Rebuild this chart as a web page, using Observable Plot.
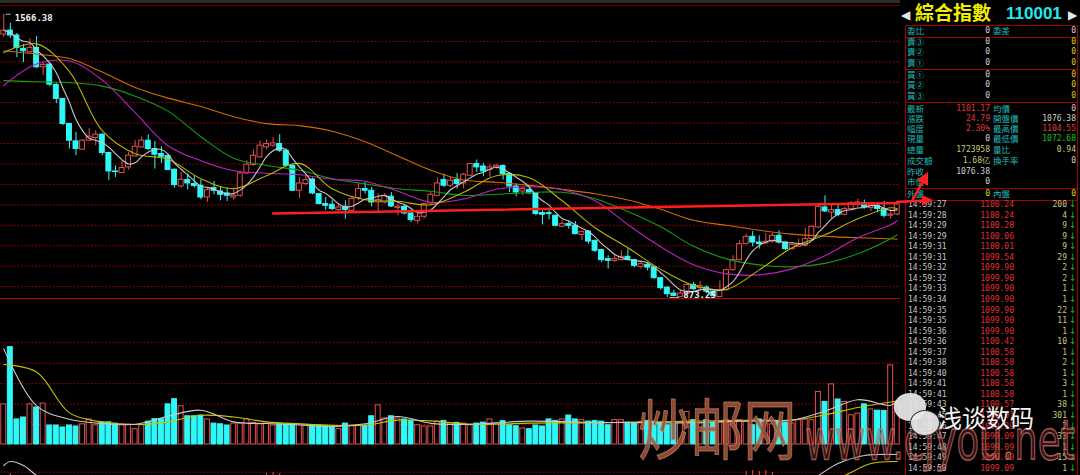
<!DOCTYPE html>
<html><head><meta charset="utf-8">
<script src="https://cdn.jsdelivr.net/npm/d3@7"></script>
<script src="https://cdn.jsdelivr.net/npm/@observablehq/plot@0.6"></script>
<style>
body{margin:0;background:#000;width:1080px;height:475px;overflow:hidden;position:relative;}
.abs{position:absolute;white-space:nowrap;line-height:1;}
.num{font-family:"DejaVu Sans Mono",monospace;font-size:8px;}
.lab{font-family:"Noto Sans CJK TC",sans-serif;font-size:8.5px;color:#20b8b8;}
</style></head>
<body>
<div id="main" class="abs" style="left:0;top:0"></div>
<div id="vol" class="abs" style="left:0;top:298px"></div>
<div id="ind" class="abs" style="left:0;top:445px"></div>
<div id="overlay"></div>
<script>
// ---------- daily candles (index 0 .. 136) ----------
const opens = [1516.7,1526.5,1514.3,1481.7,1473.3,1484.1,1436.6,1443.2,1393.5,1359.2,1297.9,1255.3,1234.9,1257.0,1263.6,1271.7,1226.9,1181.8,1177.9,1191.6,1218.5,1240.6,1257.0,1236.7,1224.4,1219.5,1186.0,1145.0,1160.7,1150.9,1146.8,1118.1,1141.1,1132.8,1127.9,1118.1,1122.3,1176.9,1197.5,1216.1,1240.6,1244.8,1248.9,1232.5,1195.8,1134.5,1150.9,1162.2,1126.4,1101.9,1100.2,1087.2,1095.3,1085.5,1116.6,1138.7,1134.5,1105.8,1105.8,1119.8,1092.1,1095.3,1078.9,1061.0,1070.8,1103.4,1122.3,1160.7,1146.8,1160.7,1152.4,1171.3,1199.9,1194.0,1185.2,1191.6,1195.0,1175.4,1145.0,1132.8,1136.2,1128.9,1079.9,1079.9,1073.3,1046.3,1052.9,1048.8,1026.7,1034.8,1012.0,989.2,967.2,963.0,964.7,972.8,964.7,948.3,953.2,946.6,920.6,897.6,882.9,874.8,882.2,904.2,896.1,897.6,887.8,874.5,891.2,940.2,964.7,1003.9,1021.8,1007.8,1005.4,1010.3,1024.3,1007.8,991.7,997.3,999.8,1016.2,1044.6,1093.6,1081.3,1087.2,1075.7,1089.7,1100.2,1103.4,1092.1,1097.8,1089.7,1073.3,1076.38];
const highs = [1566.38,1544.4,1519.2,1492.2,1506.9,1511.8,1448.8,1445.7,1396.7,1359.9,1299.4,1277.3,1259.5,1286.4,1281.5,1274.2,1228.3,1195.8,1206.3,1228.3,1257.0,1266.8,1271.7,1255.3,1242.3,1224.4,1187.7,1179.3,1176.2,1171.3,1160.7,1141.1,1157.3,1144.3,1141.1,1141.1,1181.8,1208.0,1234.2,1257.0,1258.7,1265.1,1271.7,1236.7,1198.2,1167.1,1171.3,1165.6,1127.2,1118.1,1111.7,1100.2,1110.0,1118.1,1152.4,1154.8,1142.6,1127.2,1127.9,1130.3,1101.9,1097.8,1081.3,1081.3,1103.4,1130.3,1165.6,1175.4,1167.1,1176.9,1176.9,1201.4,1209.7,1201.4,1198.2,1198.2,1198.2,1179.3,1150.9,1142.6,1142.6,1130.3,1085.5,1087.2,1075.7,1061.0,1061.0,1059.3,1036.5,1036.5,1013.7,991.7,975.3,977.7,987.5,991.7,967.2,963.0,958.8,948.3,922.1,899.3,891.2,889.5,906.7,909.8,912.3,901.8,889.5,914.0,942.7,975.3,1012.0,1028.4,1034.8,1024.3,1029.9,1029.9,1036.5,1010.3,1005.4,1016.2,1043.1,1048.8,1100.2,1122.3,1101.9,1100.2,1093.6,1108.3,1114.2,1111.7,1105.8,1102.7,1108.3,1088.0,1104.55];
const lows = [1509.4,1506.9,1460.4,1448.1,1470.2,1433.4,1416.3,1389.3,1347.7,1293.8,1236.7,1220.3,1234.2,1254.6,1244.8,1220.3,1159.0,1167.1,1176.9,1185.2,1217.8,1239.1,1232.5,1187.7,1201.4,1183.5,1141.1,1141.1,1136.9,1141.1,1112.5,1105.8,1124.7,1110.0,1108.3,1111.7,1118.1,1173.7,1194.0,1214.6,1234.2,1240.6,1228.3,1193.3,1132.8,1115.6,1146.8,1124.7,1100.2,1087.2,1085.5,1083.0,1065.2,1081.3,1110.0,1126.4,1095.3,1083.0,1101.9,1093.6,1073.3,1075.7,1056.8,1052.9,1065.2,1100.2,1119.8,1142.6,1142.6,1138.7,1138.7,1168.8,1179.3,1168.8,1165.6,1187.7,1160.7,1130.3,1119.8,1122.3,1126.4,1073.3,1051.2,1062.7,1046.3,1044.6,1040.7,1026.7,1012.0,1003.9,983.3,958.8,942.7,958.8,963.0,963.0,946.6,942.7,938.5,918.2,891.2,873.25,875.0,874.0,879.7,889.5,889.5,882.9,874.8,873.5,889.5,938.5,963.0,1002.2,997.3,991.7,1003.9,1005.4,1003.9,987.5,989.2,995.6,997.3,1013.7,1043.1,1081.3,1065.2,1070.8,1073.3,1087.2,1093.6,1089.7,1083.8,1080.6,1067.6,1065.2,1072.68];
const closes = [1526.5,1514.3,1484.1,1475.8,1484.1,1436.6,1442.5,1394.2,1359.2,1297.9,1257.0,1236.7,1257.0,1266.8,1271.7,1226.9,1181.8,1180.3,1190.1,1220.3,1242.3,1257.0,1236.7,1222.7,1217.8,1185.2,1148.5,1161.5,1152.4,1146.0,1118.1,1136.2,1134.5,1124.7,1122.3,1122.3,1176.9,1198.2,1220.3,1244.8,1248.9,1250.4,1232.5,1195.8,1134.5,1152.4,1160.7,1127.9,1101.9,1097.8,1089.7,1093.6,1087.2,1114.2,1138.7,1134.5,1105.8,1111.7,1122.3,1096.0,1095.3,1078.9,1062.7,1070.8,1101.9,1124.7,1152.4,1146.8,1159.0,1150.9,1173.7,1199.9,1191.6,1181.8,1191.6,1195.8,1175.4,1145.0,1130.3,1138.7,1127.9,1077.4,1075.7,1077.4,1048.8,1052.9,1048.8,1028.4,1034.1,1010.3,987.5,964.7,963.0,967.2,972.8,964.7,950.8,954.9,946.6,920.6,896.1,881.4,877.3,882.9,904.2,893.7,901.8,887.8,877.3,891.2,940.2,964.7,1003.9,1021.8,1007.8,1003.9,1009.6,1024.3,1007.8,991.7,1002.2,1002.2,1016.2,1046.3,1095.3,1083.8,1087.2,1075.7,1089.7,1103.4,1105.8,1093.6,1097.8,1090.0,1073.3,1076.38,1101.17];
// volume, 万股
const vols = [165,400,103,111,165,152,168,78,78,70,78,74,83,103,79,91,91,86,83,82,63,79,94,104,104,165,186,157,116,116,119,103,86,83,78,86,86,103,89,83,86,78,83,82,83,82,79,78,78,75,74,63,86,78,79,78,116,161,107,116,107,103,98,79,74,74,94,97,86,89,86,79,86,90,103,86,96,79,75,66,63,78,74,103,97,103,119,103,100,94,97,94,79,100,100,89,86,93,97,94,86,79,83,93,134,100,86,100,89,93,100,86,100,93,79,103,97,83,93,89,86,100,103,100,216,175,247,185,175,120,127,165,144,139,138,325,172.4];

// ---------- moving-average readings (at candle indexes maIdx) ----------
const maIdx = [0,5,10,15,20,25,30,35,40,45,50,55,60,65,70,75,80,85,90,95,100,105,110,115,120,125,130,135,136];
const ma10 = [1472.6,1493.9,1426.1,1281.5,1225.2,1211.7,1163.9,1139.4,1171.3,1201.4,1139.4,1112.5,1108.8,1100.2,1130.8,1171.3,1166.4,1110.0,1043.9,994.9,942.2,903.0,893.2,940.9,994.9,1026.7,1065.9,1092.9,1090.4];
const ma20 = [1392,1444.4,1451.8,1405.2,1325.6,1244.8,1208,1183.5,1177.4,1173.7,1162.7,1157.8,1133.3,1106.3,1114.2,1138.2,1144.3,1136.9,1110,1051.7,997.3,953.2,931.2,928.7,943.4,975.3,1019.4,1051.2,1061];
const ma30 = [1404,1401.1,1399.1,1390.5,1366,1329.3,1266.8,1214.1,1196.5,1184.7,1163.9,1151.2,1139.4,1133.3,1123,1125.9,1130.3,1130.8,1114.9,1083.8,1046.3,998.5,967.9,953.2,948.3,956.9,980.2,1016.9,1026.7];
const ma60 = [1476.3,1468.9,1457.9,1424.8,1386.9,1361.1,1340.8,1315.8,1298.7,1293.8,1280.3,1254.6,1219.5,1184.7,1161,1155.3,1147.7,1138.2,1127.2,1112,1089.2,1062.2,1050,1037.7,1028.4,1023,1019.4,1016.9,1015.7];
const volMa5 = [393,159,104,86,83,116,141,93,86,80,73,85,115,87,82,89,96,94,90,91,89,90,94,97,100,137,184,161,178];
const volMa10 = [329,298,130,92,82,93,120,113,93,85,79,79,100,97,85,83,88,89,89,91,93,96,98,100,100,122,152,175,180];

// support line drawn on the chart
const supportIdx = [41,136];
const supportVal = [1079,1104.5];

// lower indicator panel (partly visible)
const indWhiteIdx = [0,1,3,5,7, 122,124,127,131,133,136];
const indWhite   = [10,14,10,0,-8, -8,0,12,20,21,21];
const indYellowIdx = [125,128,132,136];
const indYellow    = [-8,0,12,14];
const indBarIdx = [1,40,41,42,113,114,115,116,117];
const indBar    = [2,2,3,2,4,5,4,5,3];

// grids
const priceGrid = [1500,1450,1400,1350,1300,1250,1200,1150,1100,1050,1000,950,900];
const volGrid = [82,166,250,334,418];
const indGrid = [3.3];

// ---------- right-side quote panel ----------
const qLab1 = ["委比","賣③","賣②","賣①","買①","買②","買③","最新","漲跌","幅度","現量","總量","成交額","昨收","市值","外盤"];
const qVal1 = ["0","0","0","0","0","0","0","1101.17","24.79","2.30%","0","1723958","1.68亿","1076.38","0","0"];
const qLab2 = ["委差","","","","","","","均價","開盤價","最高價","最低價","量比","換手率","","","內盤"];
const qVal2 = ["0","0","0","0","0","0","0","0","1076.38","1104.55","1072.68","0.94","0","","","0"];
const tickTimes = ["14:59:27","14:59:28","14:59:29","14:59:29","14:59:31","14:59:31","14:59:32","14:59:32","14:59:33","14:59:34","14:59:35","14:59:35","14:59:36","14:59:36","14:59:37","14:59:38","14:59:40","14:59:41","14:59:41","14:59:43","14:59:45","14:59:46","14:59:47","14:59:48","14:59:49","14:59:50"];
const tickPrices = ["1100.24","1100.24","1100.28","1100.06","1100.01","1099.54","1099.90","1099.90","1099.90","1099.90","1099.90","1099.90","1099.90","1100.42","1100.58","1100.58","1100.58","1100.58","1100.58","1100.57","1100.01","1099.39","1099.09","1099.09","1099.09","1099.09"];
const tickVols = ["200","4","9","9","9","29","2","2","1","1","22","11","1","10","1","2","1","3","1","38","301","2","33","1","15","1"];

// ---------- build ----------
const RED = "#e25050", CYAN = "#2ff8f8", GRID = "#8a0000";
const N = closes.length;
const idx = d3.range(N);
const candles = idx.map(i => ({i, open: opens[i], high: highs[i], low: lows[i], close: closes[i], vol: vols[i], up: closes[i] >= opens[i]}));
const pts = (ix, vals) => ix.map((i, k) => ({i, v: vals[k]}));
const xs = {type: "band", domain: idx, range: [0, 900], paddingInner: 0.25, paddingOuter: 0.12, round: false, axis: null};
const hi = candles.reduce((a, b) => b.high > a.high ? b : a);
const lo = candles.reduce((a, b) => b.low < a.low ? b : a);
const line = (data, color) => Plot.line(data, {x: "i", y: "v", stroke: color, strokeWidth: 1.1, curve: "catmull-rom"});
const lbl = {textAnchor: "start", fill: "#f0f0f0", fontSize: 9, fontWeight: "bold", fontFamily: "DejaVu Sans Mono"};

const main = Plot.plot({
  width: 900, height: 300, margin: 0,
  style: {background: "transparent", overflow: "visible"},
  x: xs, y: {domain: [866, 1600], axis: null},
  marks: [
    Plot.ruleY(priceGrid, {stroke: GRID, strokeDasharray: "2,1.5"}),
    Plot.ruleX(candles, {x: "i", y1: "low", y2: "high", stroke: d => d.up ? RED : CYAN}),
    Plot.barY(candles, {x: "i", y1: "open", y2: "close", fill: d => d.up ? "#000" : CYAN, stroke: d => d.up ? RED : CYAN}),
    line(pts(maIdx, ma60), "#d06a00"),
    line(pts(maIdx, ma30), "#10a010"),
    line(pts(maIdx, ma20), "#c020c0"),
    line(pts(maIdx, ma10), "#b8b400"),
    Plot.line(candles, Plot.windowY({k: 5, anchor: "end"}, {x: "i", y: "close", stroke: "#c8c8c8", strokeWidth: 1.1, curve: "catmull-rom"})),
    Plot.line(pts(supportIdx, supportVal), {x: "i", y: "v", stroke: "#ff1e1e", strokeWidth: 2.5}),
    // leaders of the extreme labels
    Plot.tickY([hi], {x: "i", y: "high", dx: 5, stroke: "#b0b0b0"}),
    Plot.tickY([lo], {x: "i", y: "low", dx: 5, stroke: "#b0b0b0"}),
    Plot.tickY([lo], {x: "i", y: "low", dx: 10, stroke: "#b0b0b0"}),
    Plot.text([hi], {x: "i", y: "high", text: d => d.high.toFixed(2), dx: 11, dy: 4, ...lbl}),
    Plot.text([lo], {x: "i", y: "low", text: d => d.low.toFixed(2), dx: 16, dy: -2, ...lbl})
  ]
});
document.getElementById("main").append(main);

const vol = Plot.plot({
  width: 900, height: 146, margin: 0,
  style: {background: "transparent", overflow: "visible"},
  x: xs, y: {domain: [0, 600], axis: null},
  marks: [
    Plot.ruleY(volGrid, {stroke: GRID, strokeDasharray: "2,1.5"}),
    Plot.barY(candles, {x: "i", y: "vol", fill: d => d.up ? "#000" : CYAN, stroke: d => d.up ? RED : CYAN}),
    line(pts(maIdx, volMa10), "#c8c400"),
    line(pts(maIdx, volMa5), "#c8c8c8")
  ]
});
document.getElementById("vol").append(vol);

const ind = Plot.plot({
  width: 900, height: 30, margin: 0,
  style: {background: "transparent"},
  x: xs, y: {domain: [0, 30], axis: null},
  marks: [
    Plot.ruleY(indGrid, {stroke: GRID, strokeDasharray: "2,1.5"}),
    Plot.ruleX(pts(indBarIdx, indBar), {x: "i", y1: -5, y2: "v", stroke: RED}),
    line(pts(indWhiteIdx, indWhite), "#c8c8c8"),
    line(pts(indYellowIdx, indYellow), "#c8c400")
  ]
});
document.getElementById("ind").append(ind);

// ---------- overlay / panel (HTML text) ----------
const ov = document.getElementById("overlay");
function add(html, style, cls) {
  const s = document.createElement("div");
  s.className = "abs " + (cls || "");
  s.style.cssText = style;
  s.innerHTML = html;
  ov.append(s);
  return s;
}
// frame lines
add("", "left:0;top:0;width:900px;height:3px;background:#2c2c2c");
add("", "left:0;top:5px;width:900px;height:1px;background:#7a0000");
add("", "left:0;top:298px;width:900px;height:1px;background:#c00000");
add("", "left:905px;top:25px;width:1px;height:450px;background:#a00000");
add("", "left:1077px;top:25px;width:1px;height:450px;background:#a00000");
[25, 37, 69, 102, 188, 200].forEach(y => add("", `left:905px;top:${y}px;width:173px;height:1px;background:#a00000`));

// title
add("◀", "left:901px;top:9px;font-size:12px;color:#e8e8e8;font-family:'DejaVu Sans'");
add("綜合指數", "left:915px;top:2px;font-size:19px;color:#f0f000;font-family:'Noto Sans CJK TC';font-weight:bold");
add("110001", "left:1006px;top:5px;font-size:17px;color:#20e8f0;font-family:'Liberation Sans';font-weight:bold");
add("▶", "left:1068px;top:9px;font-size:12px;color:#e8e8e8;font-family:'DejaVu Sans'");

const rowY = [31.7, 42.7, 52.7, 63, 75, 85.7, 96.3, 109, 119.3, 129.3, 139.3, 150.7, 161.7, 172.3, 182.7, 194];
const c1 = {7: "#e03838", 8: "#e03838", 9: "#e03838", 11: "#c8c87a", 12: "#c8c87a", 15: "#d8d800"};
const c2 = {1: "#d8d800", 2: "#d8d800", 3: "#d8d800", 4: "#d8d800", 5: "#d8d800", 6: "#d8d800", 9: "#e03838", 10: "#10c010", 11: "#c8c87a", 15: "#d8d800"};
qLab1.forEach((t, k) => {
  const y = rowY[k] - 5;
  add(t, `left:907px;top:${y - 0.5}px`, "lab");
  add(qVal1[k], `right:${1080 - 990}px;top:${y + 0.5}px;color:${c1[k] || "#d0d0d0"}`, "num");
  if (qLab2[k]) add(qLab2[k], `left:993px;top:${y - 0.5}px`, "lab");
  if (qVal2[k]) add(qVal2[k], `right:${1080 - 1076}px;top:${y + 0.5}px;color:${c2[k] || "#d0d0d0"}`, "num");
});
tickTimes.forEach((t, k) => {
  const y = 205 + k * 10.55 - 4;
  add(t, `left:908px;top:${y}px;color:#c8c8c8`, "num");
  add(tickPrices[k], `right:${1080 - 1014}px;top:${y}px;color:#e03030`, "num");
  add(tickVols[k], `right:${1080 - 1067}px;top:${y}px;color:#c8c87a`, "num");
  add("↓", `left:1069px;top:${y - 1}px;color:#10c010;font-size:9px;font-family:'DejaVu Sans'`);
});

// hand-drawn red arrows near the panel
add(`<svg width="60" height="50" viewBox="890 165 60 50" style="display:block">
  <line x1="896" y1="202" x2="925" y2="200.5" stroke="#ff2020" stroke-width="2.5"/>
  <polygon points="933,200 922,195 922,206" fill="#ff2020"/>
  <line x1="912" y1="201" x2="923" y2="181" stroke="#ff2020" stroke-width="2.5"/>
  <polygon points="928,172 928,186 917,180" fill="#ff2020"/>
</svg>`, "left:890px;top:165px");

// watermark
add("炒邮网", "left:638px;top:392px;font-size:66px;transform:scaleX(0.8);transform-origin:left top;color:rgba(165,85,60,0.85);font-family:'Noto Sans CJK SC';-webkit-text-stroke:1px rgba(220,150,120,0.6)");
add("www.cjyou.net", "left:805px;top:412px;font-size:56px;transform:scaleX(0.66);transform-origin:left top;color:rgba(140,55,55,0.4);font-family:'DejaVu Sans';-webkit-text-stroke:1.5px rgba(205,115,105,0.75)");
// wechat-style logo + caption
add("", "left:894px;top:393px;width:32px;height:28px;border-radius:50%;background:rgba(232,232,232,0.93)");
add("", "left:910px;top:410px;width:28px;height:24px;border-radius:50%;background:rgba(232,232,232,0.93);border:1.5px solid #333");
add("浅谈数码", "left:938px;top:405px;font-size:24px;color:#f4f4f4;font-family:'Noto Sans CJK SC'");
</script>
</body></html>
